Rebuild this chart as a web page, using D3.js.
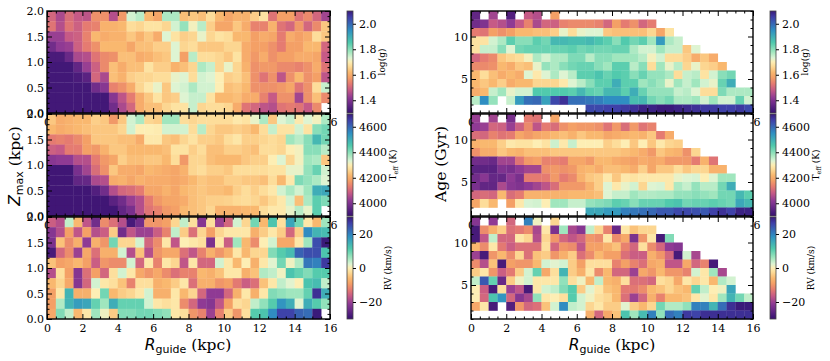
<!DOCTYPE html>
<html>
<head>
<meta charset="utf-8">
<script src="https://cdn.jsdelivr.net/npm/d3@7"></script>
<style>
  body { margin: 0; background: white; }
  text { font-family: "DejaVu Serif"; fill: black; }
</style>
</head>
<body>
<svg id="chart" width="830" height="361"></svg>
<script>
const N = null;

// rows run from the top of each panel to the bottom, 32 columns of 0.5 kpc
const loggZmax = [
  [1.50,1.45,1.51,1.48,1.47,1.56,1.56,1.46,1.57,1.74,1.76,1.62,1.59,1.77,1.77,1.63,1.64,1.63,1.67,1.62,1.59,1.61,1.61,1.65,1.68,1.52,1.58,1.58,1.52,1.55,1.50,1.44],
  [1.52,1.46,1.52,1.49,1.53,1.54,1.61,1.61,1.62,1.67,1.66,1.68,1.68,1.66,1.74,1.79,1.71,1.76,1.65,1.59,1.59,1.64,1.60,1.54,1.54,1.61,1.52,1.50,1.57,1.50,1.55,1.64],
  [1.43,1.43,1.48,1.49,1.54,1.62,1.60,1.61,1.61,1.64,1.61,1.64,1.60,1.73,1.68,1.65,1.66,1.72,1.66,1.68,1.67,1.62,1.62,1.58,1.60,1.59,1.53,1.60,1.58,1.60,1.67,1.64],
  [1.38,1.42,1.43,1.49,1.53,1.56,1.62,1.62,1.62,1.59,1.63,1.63,1.65,1.65,1.73,1.66,1.67,1.64,1.64,1.64,1.66,1.66,1.60,1.58,1.58,1.56,1.53,1.58,1.58,1.62,1.62,1.50],
  [1.33,1.33,1.37,1.45,1.46,1.52,1.55,1.56,1.63,1.63,1.60,1.61,1.63,1.64,1.73,1.58,1.76,1.67,1.67,1.66,1.64,1.68,1.60,1.57,1.60,1.56,1.58,1.58,1.60,1.60,1.59,1.48],
  [1.32,1.32,1.32,1.36,1.43,1.49,1.55,1.63,1.60,1.63,1.63,1.68,1.65,1.65,1.61,1.63,1.66,1.77,1.75,1.66,1.72,1.66,1.61,1.56,1.57,1.57,1.55,1.55,1.54,1.56,1.60,1.52],
  [1.32,1.32,1.32,1.33,1.35,1.50,1.45,1.63,1.61,1.65,1.66,1.66,1.67,1.67,1.72,1.73,1.67,1.74,1.73,1.70,1.65,1.66,1.63,1.56,1.52,1.56,1.47,1.56,1.62,1.56,1.58,1.47],
  [1.32,1.32,1.32,1.32,1.32,1.38,1.41,1.54,1.56,1.60,1.66,1.69,1.72,1.64,1.73,1.74,1.77,1.74,1.74,1.70,1.63,1.64,1.62,1.56,1.56,1.56,1.57,1.59,1.52,1.56,1.67,1.75],
  [1.32,1.32,1.32,1.32,1.32,1.32,1.32,1.41,1.47,1.53,1.60,1.64,1.68,1.64,1.65,1.73,1.75,1.75,1.68,1.62,1.62,1.63,1.60,1.60,1.54,1.48,1.56,1.56,1.44,1.56,1.63,1.55],
  [1.32,1.32,1.32,1.32,1.32,1.32,1.32,1.38,1.45,1.50,1.60,1.63,1.63,1.66,1.68,1.68,1.75,1.66,1.67,1.67,1.66,1.60,1.52,1.50,1.47,1.46,1.52,1.53,1.52,1.48,1.55,N]
];
const teffZmax = [
  [4240,4200,4210,4220,4220,4250,4240,4170,4240,4340,4370,4260,4250,4380,4380,4270,4260,4270,4270,4270,4270,4290,4280,4320,4370,4240,4330,4350,4290,4330,4310,4370],
  [4220,4200,4210,4220,4230,4240,4240,4240,4260,4340,4300,4300,4295,4340,4340,4340,4270,4360,4260,4240,4240,4250,4240,4220,4270,4350,4280,4280,4340,4280,4400,4420],
  [4130,4140,4130,4150,4180,4240,4240,4240,4230,4230,4200,4290,4290,4240,4230,4260,4280,4250,4250,4240,4270,4285,4250,4250,4260,4270,4260,4380,4360,4400,4480,4420],
  [4090,4080,4130,4130,4180,4170,4210,4240,4240,4220,4220,4220,4220,4230,4280,4280,4250,4270,4230,4230,4250,4250,4240,4230,4270,4270,4260,4300,4310,4400,4400,4360],
  [4010,4020,4020,4060,4060,4130,4170,4190,4250,4230,4230,4240,4240,4220,4270,4170,4260,4260,4230,4220,4220,4220,4240,4250,4250,4300,4330,4260,4310,4380,4370,4240],
  [3915,3915,3915,3990,4040,4110,4160,4240,4200,4200,4190,4220,4210,4200,4190,4210,4260,4270,4250,4250,4240,4270,4270,4270,4270,4280,4280,4320,4320,4390,4430,4340],
  [3915,3915,3915,3960,3965,4050,4060,4200,4210,4190,4210,4200,4200,4200,4190,4200,4220,4240,4230,4230,4250,4250,4240,4240,4230,4270,4220,4290,4410,4390,4370,4330],
  [3915,3915,3915,3915,3915,3940,3980,4060,4100,4110,4130,4190,4190,4210,4190,4220,4230,4240,4230,4230,4220,4250,4270,4250,4270,4290,4340,4370,4340,4380,4500,4510],
  [3915,3915,3915,3915,3915,3915,3915,3950,3980,4030,4060,4130,4170,4190,4190,4200,4230,4240,4250,4250,4255,4265,4270,4260,4240,4265,4290,4340,4230,4370,4440,4410],
  [3915,3915,3915,3915,3915,3915,3915,3915,3960,3990,4060,4120,4140,4170,4180,4220,4230,4240,4260,4210,4210,4210,4220,4220,4270,4290,4290,4320,4360,4320,4440,N]
];
const rvZmax = [
  [-16,-18,4,-6,-17,-24,-11,-14,-18,-28,-24,-10,-10,-9,-3,4,-2,-22,-2,-20,-15,3,-3,9,-6,12,-2,16,9,-1,-6,6],
  [-22,-18,-9,-17,-9,-18,-16,-4,-24,-17,-20,-20,-16,-12,4,-4,-14,-3,-9,-3,-1,-1,-1,-7,-4,-1,-4,-15,-4,19,14,13],
  [-23,-5,-11,-7,-21,-7,-10,9,-3,-3,3,-15,-11,-1,-17,0,-1,-2,-23,-1,-16,6,-6,-11,0,3,-8,-8,-1,6,25,30],
  [-28,-15,-11,-20,-8,-14,-7,-7,3,-18,-5,-18,-10,-8,-8,-14,-17,-12,-7,-10,-7,-1,-6,-3,-3,8,11,13,23,25,25,12],
  [-5,-9,-8,-6,-9,-16,-10,-11,-11,3,-15,-1,-12,-1,-3,-17,-1,-15,-15,3,-1,-6,0,-7,-1,2,9,1,5,21,20,27],
  [-18,-2,-9,-22,-14,-9,-15,-2,3,-1,-8,-10,-8,-11,-14,-12,-12,-6,-7,-5,-1,-1,-7,-5,5,4,1,12,10,8,11,11],
  [-6,-3,-8,-22,-15,3,-1,-2,-5,-12,-2,-2,-7,-6,-4,-1,-14,-7,-7,-10,-9,-13,-16,-14,-5,-1,4,2,0,12,13,4],
  [-9,-1,14,-7,-7,0,9,-6,-4,-3,-1,3,-7,-7,-1,-6,-3,-15,-21,-21,-15,-7,-1,-7,-1,8,7,6,6,10,28,15],
  [-9,5,14,17,16,10,6,15,10,10,10,3,-1,-2,-1,-11,-15,-21,-22,-17,-9,-2,-3,4,7,11,18,15,2,15,11,7],
  [-8,8,4,-6,-1,6,1,-4,8,8,9,9,8,7,-1,-2,-10,-12,-20,-12,-4,-10,-2,11,12,19,26,26,23,22,30,N]
];

// 12 rows of 1 Gyr, oldest at the top
const loggAge = [
  [1.36,N,1.44,N,1.34,N,1.48,1.46,N,1.58,N,N,N,N,N,N,N,N,N,N,N,N,N,N,N,N,N,N,N,N,N,N],
  [1.38,1.40,1.48,1.46,1.42,1.48,1.54,1.45,1.50,1.49,1.54,1.55,1.55,1.55,1.54,1.50,1.58,1.53,1.56,1.50,1.53,N,N,N,N,N,N,N,N,N,N,N],
  [1.53,1.52,1.58,1.56,1.58,1.62,1.62,1.63,1.63,1.65,1.72,1.67,1.72,1.73,1.73,1.64,1.63,1.63,1.63,1.63,1.66,1.59,1.68,N,N,N,N,N,N,N,N,N],
  [1.68,1.68,1.74,1.77,1.84,1.80,1.80,1.84,1.82,1.88,1.88,1.87,1.87,1.88,1.86,1.84,1.80,1.85,1.82,1.84,1.78,1.93,1.77,1.75,N,N,N,N,N,N,N,N],
  [1.68,1.75,1.75,1.80,1.73,1.82,1.83,1.83,1.83,1.83,1.83,1.84,1.82,1.83,1.82,1.82,1.83,1.83,1.77,1.74,1.74,1.78,1.75,1.75,1.64,1.73,N,N,N,N,N,N],
  [1.50,1.53,1.55,1.64,1.66,1.67,1.71,1.77,1.74,1.77,1.77,1.81,1.81,1.76,1.80,1.80,1.78,1.78,1.78,1.76,1.71,1.74,1.67,1.67,1.65,1.60,1.64,1.60,N,N,N,N],
  [1.55,1.55,1.56,1.62,1.60,1.64,1.63,1.72,1.79,1.77,1.80,1.82,1.83,1.83,1.80,1.78,1.84,1.84,1.76,1.80,1.67,1.78,1.72,1.76,1.66,1.72,1.66,1.65,1.62,N,N,N],
  [1.62,1.67,1.63,1.60,1.62,1.60,1.73,1.69,1.73,1.77,1.73,1.76,1.84,1.84,1.86,1.83,1.85,1.84,1.80,1.83,1.79,1.79,1.77,1.67,1.75,1.76,1.68,1.74,1.80,1.82,N,N],
  [1.62,1.64,1.62,1.65,1.60,1.62,1.62,1.66,1.66,1.66,1.69,1.73,1.76,1.80,1.84,1.84,1.90,1.84,1.84,1.78,1.80,1.78,1.72,1.78,1.75,1.78,1.74,1.72,1.83,1.90,N,N],
  [1.60,1.62,1.75,1.78,1.72,1.74,1.74,1.85,1.85,1.85,1.85,1.84,1.88,1.84,1.83,1.88,1.88,1.84,1.90,1.83,1.79,1.79,1.79,1.75,1.76,1.73,1.67,1.67,1.81,1.77,1.77,1.77],
  [1.76,1.95,1.79,N,1.75,1.93,1.99,2.00,1.92,2.04,2.07,1.99,1.99,1.98,1.97,1.95,1.95,1.95,1.87,1.88,1.82,1.80,1.82,1.77,1.77,1.78,1.74,1.78,1.74,1.74,1.83,1.74],
  [N,N,N,N,N,N,N,N,N,N,N,N,N,2.04,2.04,2.05,2.05,2.06,2.07,2.09,2.09,2.10,2.10,2.09,2.08,2.07,2.06,2.06,2.05,2.05,2.06,2.04]
];
const teffAge = [
  [4030,N,4040,N,3990,N,4130,4120,N,4190,N,N,N,N,N,N,N,N,N,N,N,N,N,N,N,N,N,N,N,N,N,N],
  [4020,4030,4100,4090,4030,4090,4150,4070,4130,4110,4160,4180,4170,4170,4160,4120,4170,4110,4170,4120,4140,N,N,N,N,N,N,N,N,N,N,N],
  [4110,4100,4140,4120,4130,4190,4170,4190,4200,4220,4230,4210,4240,4220,4220,4190,4200,4210,4220,4210,4240,4130,4200,N,N,N,N,N,N,N,N,N],
  [4210,4220,4220,4250,4290,4280,4280,4300,4280,4345,4290,4350,4300,4300,4300,4250,4270,4300,4240,4300,4240,4290,4260,4250,N,N,N,N,N,N,N,N],
  [4160,4200,4200,4240,4220,4210,4230,4230,4230,4240,4240,4240,4240,4240,4240,4240,4240,4230,4220,4200,4170,4240,4220,4210,4160,4260,N,N,N,N,N,N],
  [3980,3980,3970,4040,4040,4120,4170,4180,4140,4140,4130,4190,4190,4170,4220,4220,4200,4190,4180,4200,4190,4200,4170,4170,4170,4130,4210,4120,N,N,N,N],
  [3950,3950,3950,4000,3990,4020,4040,4040,4160,4170,4160,4170,4210,4220,4200,4230,4230,4220,4200,4250,4190,4240,4240,4270,4240,4260,4260,4210,4210,N,N,N],
  [3980,4010,3965,3965,4020,3990,4130,4130,4130,4170,4130,4150,4210,4240,4250,4290,4240,4290,4280,4290,4290,4290,4290,4320,4330,4335,4300,4330,4380,4380,N,N],
  [3990,3960,3960,4050,4010,4000,4020,4040,4070,4110,4170,4170,4170,4210,4250,4330,4290,4320,4340,4260,4330,4335,4290,4370,4350,4390,4360,4360,4420,4500,N,N],
  [4100,4110,4100,4220,4110,4130,4210,4210,4210,4210,4210,4220,4220,4220,4230,4330,4350,4350,4380,4365,4365,4370,4370,4390,4390,4400,4390,4380,4420,4420,4480,4440],
  [4190,4270,4220,N,4180,4290,4335,4340,4300,4380,4380,4350,4350,4390,4400,4410,4440,4430,4400,4430,4430,4430,4450,4460,4420,4430,4430,4440,4430,4420,4510,4480],
  [N,N,N,N,N,N,N,N,N,N,N,N,N,4510,4510,4530,4530,4570,4580,4590,4600,4620,4620,4640,4640,4630,4620,4650,4670,4650,4690,4690]
];
const rvAge = [
  [-22,N,-21,N,-15,N,20,1,N,-3,N,N,N,N,N,N,N,N,N,N,N,N,N,N,N,N,N,N,N,N,N,N],
  [-28,-11,-7,-4,-14,-13,-11,-19,-1,-23,6,-19,-22,4,-3,-12,-25,-1,-5,-3,-3,N,N,N,N,N,N,N,N,N,N,N],
  [-28,-17,4,-15,-15,-1,-3,-18,-3,-10,-15,-17,-15,-10,-11,-1,-11,-8,-23,-10,-1,-28,8,N,N,N,N,N,N,N,N,N],
  [-6,-11,-1,-13,-16,-14,-14,-14,-2,-15,-10,-11,-17,-9,-9,-7,-5,-12,-15,-2,-11,-15,-21,-22,N,N,N,N,N,N,N,N],
  [-20,-28,-10,-6,-11,-3,-14,-5,-4,-10,-7,-4,-14,-11,-6,-9,-9,-14,-16,-16,-7,-10,-15,-28,3,-19,N,N,N,N,N,N],
  [-11,-18,-5,-28,-9,-10,-10,-6,3,2,3,-4,-9,-2,-2,-2,-12,-9,-12,-14,-8,-7,-17,-17,-8,-15,-12,-28,N,N,N,N],
  [-4,-1,-10,-16,-13,-4,3,10,-8,-2,14,-4,-7,-1,-11,-6,-15,-15,-20,-8,-10,-6,-10,-10,-12,3,-1,6,-19,N,N,N],
  [4,24,10,-25,-4,1,3,-1,-1,-1,7,-2,1,-6,4,-6,-7,-2,-14,-14,-15,-2,-3,-8,-1,-3,-1,-6,5,3,N,N],
  [0,-16,-28,-2,-20,-17,-28,-1,3,4,8,11,-4,2,-1,-5,-6,-13,-13,-11,-6,-5,-3,-5,-6,10,4,0,1,16,N,N],
  [0,-15,12,18,-15,-22,-19,7,-1,0,-2,11,3,1,-2,-3,-6,-14,-20,-15,-7,-12,-6,-6,-5,-1,2,-1,6,14,9,4],
  [-8,-1,-28,N,-27,-10,-15,-14,-5,3,19,4,3,-3,-1,-4,-4,2,-4,-6,-3,9,5,5,7,20,20,14,22,28,30,30],
  [N,N,N,N,N,N,N,N,N,N,N,N,N,-7,-15,-8,-5,12,6,13,20,7,22,20,27,26,28,28,28,28,28,28]
];

const cmapStops = [
  [0, "#3b0f70"], [0.025, "#421877"], [0.09, "#6b2a88"], [0.15, "#8f3a94"], [0.225, "#c65a86"],
  [0.29, "#e67c70"], [0.35, "#f4a066"], [0.40, "#f9b86f"], [0.46, "#fddc98"], [0.50, "#fdeeb4"],
  [0.54, "#dcf4d4"], [0.60, "#a0e6be"], [0.69, "#4fc9ac"], [0.81, "#2f90c2"], [0.94, "#3f3fa8"], [1, "#3a1a7a"]
];
const cmap = d3.scaleLinear()
  .domain(cmapStops.map(d => d[0]))
  .range(cmapStops.map(d => d[1]))
  .clamp(true);

const COL_WIDTH = 0.5;
const rowTops = [11, 114, 217];
const PANEL_H = 102;

const cbars = [
  {domain: [1.3, 2.1], ticks: [1.4, 1.6, 1.8, 2.0], fmt: d3.format(".1f"), label: "log(g)", labelX: 38},
  {domain: [3900, 4700], ticks: [4000, 4200, 4400, 4600], fmt: d3.format("d"), label: "Teff", labelX: 49},
  {domain: [-30, 30], ticks: [-20, 0, 20], fmt: d => String(d).replace("-", "\u2212"), label: "RV (km/s)", labelX: 44}
];

const svg = d3.select("#chart");
const defs = svg.append("defs");
defs.append("linearGradient").attr("id", "cbarGrad")
  .attr("x1", 0).attr("x2", 0).attr("y1", 1).attr("y2", 0)
  .selectAll("stop").data(cmapStops).join("stop")
  .attr("offset", d => d[0])
  .attr("stop-color", d => d[1]);

function styleAxis(g) {
  g.select(".domain").remove();
  g.selectAll(".tick line").attr("stroke", "black").attr("stroke-width", 1);
  g.selectAll("text").style("font-family", "DejaVu Serif").style("font-size", "11px");
}

function drawPanel(px, py, w, vals, yDomain, yMajor, yMinor, cbar) {
  const g = svg.append("g").attr("transform", `translate(${px},${py})`);
  const x = d3.scaleLinear().domain([0, 16]).range([0, w]);
  const y = d3.scaleLinear().domain(yDomain).range([PANEL_H, 0]);
  const rowH = (yDomain[1] - yDomain[0]) / vals.length;
  const color = d3.scaleLinear().domain(cbar.domain).range([0, 1]);

  g.append("rect").attr("width", w).attr("height", PANEL_H).attr("fill", "white");

  const cells = [];
  vals.forEach((row, i) => row.forEach((v, j) => {
    if (v !== null) cells.push({r: j * COL_WIDTH, z: yDomain[1] - i * rowH, v: v});
  }));
  g.selectAll(".cell").data(cells).join("rect")
    .attr("class", "cell")
    .attr("x", d => x(d.r))
    .attr("y", d => y(d.z))
    .attr("width", x(COL_WIDTH) - x(0) + 0.3)
    .attr("height", y(yDomain[0]) - y(yDomain[0] + rowH) + 0.3)
    .attr("fill", d => cmap(color(d.v)));

  const xMajor = d3.range(0, 17, 2);
  const xMinor = d3.range(0, 16.1, 0.5).filter(d => d % 2 != 0);
  const MAJ = 5, MIN = 2.5;

  g.append("g").attr("transform", `translate(0,${PANEL_H})`)
    .call(d3.axisBottom(x).tickValues(xMajor).tickSize(-MAJ).tickPadding(5).tickFormat(d3.format("d"))).call(styleAxis);
  g.append("g").attr("transform", `translate(0,${PANEL_H})`)
    .call(d3.axisBottom(x).tickValues(xMinor).tickSize(-MIN).tickFormat("")).call(styleAxis);
  g.append("g").call(d3.axisTop(x).tickValues(xMajor).tickSize(-MAJ).tickFormat("")).call(styleAxis);
  g.append("g").call(d3.axisTop(x).tickValues(xMinor).tickSize(-MIN).tickFormat("")).call(styleAxis);

  const yFmt = yDomain[1] == 2 ? d3.format(".1f") : d3.format("d");
  g.append("g").call(d3.axisLeft(y).tickValues(yMajor).tickSize(-MAJ).tickPadding(3).tickFormat(yFmt)).call(styleAxis);
  g.append("g").call(d3.axisLeft(y).tickValues(yMinor).tickSize(-MIN).tickFormat("")).call(styleAxis);
  g.append("g").attr("transform", `translate(${w},0)`)
    .call(d3.axisRight(y).tickValues(yMajor).tickSize(-MAJ).tickFormat("")).call(styleAxis);
  g.append("g").attr("transform", `translate(${w},0)`)
    .call(d3.axisRight(y).tickValues(yMinor).tickSize(-MIN).tickFormat("")).call(styleAxis);

  g.append("rect").attr("width", w).attr("height", PANEL_H)
    .attr("fill", "none").attr("stroke", "black").attr("stroke-width", 1.4);
}

function drawCbar(px, py, cbar) {
  const g = svg.append("g").attr("transform", `translate(${px},${py})`);
  const y = d3.scaleLinear().domain(cbar.domain).range([PANEL_H, 0]);
  g.append("rect").attr("width", 6).attr("height", PANEL_H)
    .attr("fill", "url(#cbarGrad)").attr("stroke", "#444").attr("stroke-width", 0.8);
  g.append("g").attr("transform", "translate(6,0)")
    .call(d3.axisRight(y).tickValues(cbar.ticks).tickSize(3).tickPadding(3).tickFormat(cbar.fmt))
    .call(styleAxis);
  const lab = g.append("text")
    .attr("transform", `translate(${cbar.labelX},${PANEL_H / 2}) rotate(-90)`)
    .attr("text-anchor", "middle")
    .style("font-size", "9px");
  if (cbar.label == "Teff") {
    lab.append("tspan").text("T");
    lab.append("tspan").attr("dy", 2).style("font-size", "6.5px").text("eff");
    lab.append("tspan").attr("dy", -2).text(" (K)");
  } else {
    lab.text(cbar.label);
  }
}

function xLabel(cx) {
  const t = svg.append("text").attr("x", cx).attr("y", 350)
    .attr("text-anchor", "middle").style("font-size", "15.5px");
  t.append("tspan").style("font-family", "DejaVu Sans").style("font-style", "italic").text("R");
  t.append("tspan").attr("dy", 3).style("font-family", "DejaVu Sans").style("font-size", "11px").text("guide");
  t.append("tspan").attr("dy", -3).text(" (kpc)");
}

const leftVals = [loggZmax, teffZmax, rvZmax];
const rightVals = [loggAge, teffAge, rvAge];
const zMajor = [0, 0.5, 1, 1.5, 2];
const zMinor = d3.range(0, 2.01, 0.1).filter(d => Math.abs(d * 2 - Math.round(d * 2)) > 0.01);
const ageMajor = [5, 10];
const ageMinor = d3.range(1, 13.5, 1).filter(d => d % 5 != 0);

rowTops.forEach((top, i) => {
  drawPanel(47, top, 283, leftVals[i], [0, 2], zMajor, zMinor, cbars[i]);
  drawPanel(471, top, 282, rightVals[i], [1, 13], ageMajor, ageMinor, cbars[i]);
});
rowTops.forEach((top, i) => {
  drawCbar(347, top, cbars[i]);
  drawCbar(770, top, cbars[i]);
});

xLabel(188);
xLabel(612);

svg.append("text")
  .attr("transform", "translate(20,166) rotate(-90)")
  .attr("text-anchor", "middle").style("font-size", "15.5px")
  .call(t => {
    t.append("tspan").style("font-family", "DejaVu Sans").style("font-style", "italic").text("Z");
    t.append("tspan").attr("dy", 3).style("font-family", "DejaVu Sans").style("font-size", "11px").text("max");
    t.append("tspan").attr("dy", -3).text(" (kpc)");
  });
svg.append("text")
  .attr("transform", "translate(446,164) rotate(-90)")
  .attr("text-anchor", "middle").style("font-size", "15.5px")
  .text("Age (Gyr)");
</script>
</body>
</html>
